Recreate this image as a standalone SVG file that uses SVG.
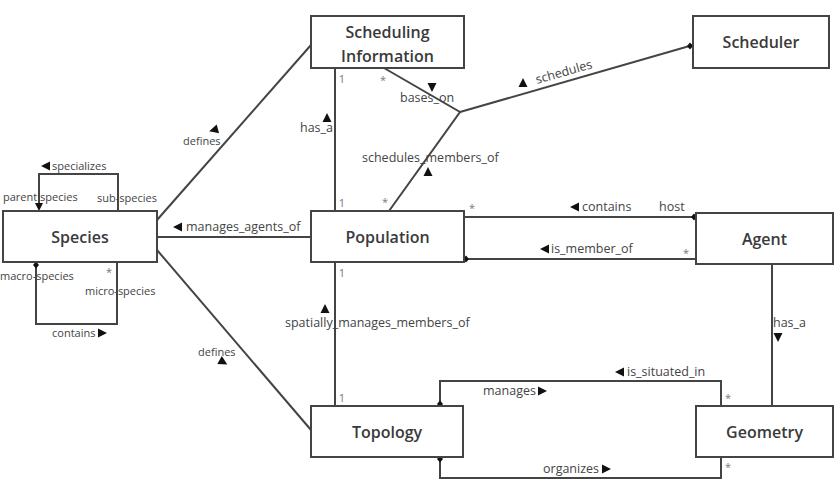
<svg xmlns="http://www.w3.org/2000/svg" width="839" height="483" viewBox="0 0 839 483">
<style>
.box{fill:#fff;stroke:#444;stroke-width:2}
.nt{font-family:"Open Sans","Liberation Sans",sans-serif;font-size:16px;font-weight:600;fill:#3a3a3a;text-anchor:middle}
.ln{fill:none;stroke:#444;stroke-width:2}
.sl{font-family:"Open Sans","Liberation Sans",sans-serif;font-size:11px;fill:#444}
.ml{font-family:"Open Sans","Liberation Sans",sans-serif;font-size:12.5px;fill:#444}
.mul{font-family:"Open Sans","Liberation Sans",sans-serif;font-size:11px;fill:#777;text-anchor:middle}
.tri{fill:#111}
.dot{fill:#111}
</style>
<defs>
<polygon id="tl" points="-5,0 4,-4.5 4,4.5"/>
<polygon id="tr" points="5,0 -4,-4.5 -4,4.5"/>
<polygon id="tu" points="0,-5 -4.5,4 4.5,4"/>
<polygon id="td" points="0,5 -4.5,-4 4.5,-4"/>
<polygon id="dm" points="0,-3.5 3,0 0,3.5 -3,0"/>
</defs>

<g id="connectors">
  <!-- species self loops -->
  <polyline class="ln" points="118,211 118,174 39,174 39,205"/>
  <polygon class="tri" points="39,211 35,203 43,203"/>
  <polyline class="ln" points="36,262 36,324 117,324 117,262"/>
  <use href="#dm" class="dot" x="36" y="265"/>
  <!-- species to others -->
  <line class="ln" x1="157" y1="220" x2="311" y2="45"/>
  <line class="ln" x1="157" y1="237" x2="311" y2="237"/>
  <line class="ln" x1="157" y1="250" x2="311" y2="430"/>
  <!-- scheduling info / population -->
  <line class="ln" x1="335" y1="68" x2="335" y2="211"/>
  <polyline class="ln" points="384,68 460,112 389,211"/>
  <line class="ln" x1="460" y1="112" x2="693" y2="45"/>
  <use href="#dm" class="dot" x="690" y="46"/>
  <!-- population / agent -->
  <line class="ln" x1="464" y1="217" x2="696" y2="217"/>
  <use href="#dm" class="dot" x="694" y="217"/>
  <line class="ln" x1="464" y1="259" x2="696" y2="259"/>
  <use href="#dm" class="dot" x="466" y="259"/>
  <!-- population / topology -->
  <line class="ln" x1="335" y1="262" x2="335" y2="406"/>
  <!-- agent / geometry -->
  <line class="ln" x1="772" y1="264" x2="772" y2="406"/>
  <!-- topology / geometry -->
  <polyline class="ln" points="440,406 440,381 721,381 721,406"/>
  <use href="#dm" class="dot" x="440" y="404"/>
  <polyline class="ln" points="440,457 440,478 721,478 721,457"/>
  <use href="#dm" class="dot" x="440" y="459"/>

  <!-- labels -->
  <use href="#tl" class="tri" x="46" y="166"/>
  <text class="sl" x="52" y="170">specializes</text>
  <text class="sl" x="3" y="201">parent species</text>
  <text class="sl" x="97" y="202">sub-species</text>
  <text class="sl" x="0" y="280">macro-species</text>
  <text class="mul" x="109" y="276">*</text>
  <text class="sl" x="85" y="295">micro-species</text>
  <text class="sl" x="52" y="337">contains</text>
  <use href="#tr" class="tri" x="102" y="333"/>

  <text class="sl" x="183" y="145">defines</text>
  <use href="#tl" class="tri" transform="translate(214,130) rotate(-15)"/>
  <text class="sl" x="198" y="356">defines</text>
  <use href="#tr" class="tri" transform="translate(223,362) rotate(30)"/>
  <use href="#tl" class="tri" x="178" y="227"/>
  <text class="ml" x="186" y="231">manages_agents_of</text>

  <text class="ml" x="300" y="132">has_a</text>
  <use href="#tu" class="tri" x="327" y="118"/>
  <text class="mul" x="342" y="83">1</text>
  <text class="mul" x="342" y="207">1</text>
  <text class="mul" x="383" y="84">*</text>
  <text class="mul" x="385" y="206">*</text>
  <use href="#td" class="tri" x="432" y="87"/>
  <text class="ml" x="400" y="102">bases_on</text>
  <text class="ml" x="362" y="162">schedules_members_of</text>
  <use href="#tu" class="tri" x="428" y="172"/>
  <use href="#tu" class="tri" x="523" y="83"/>
  <text class="ml" x="565" y="76" text-anchor="middle" transform="rotate(-16 565 76)">schedules</text>

  <text class="mul" x="472" y="212">*</text>
  <use href="#tl" class="tri" x="575" y="207"/>
  <text class="ml" x="582" y="211">contains</text>
  <text class="ml" x="659" y="211">host</text>
  <use href="#tl" class="tri" x="545" y="249"/>
  <text class="ml" x="551" y="253">is_member_of</text>
  <text class="mul" x="686" y="257">*</text>

  <text class="mul" x="342" y="277">1</text>
  <text class="mul" x="342" y="402">1</text>
  <use href="#tu" class="tri" x="325" y="309"/>
  <text class="ml" x="285" y="327">spatially_manages_members_of</text>

  <text class="ml" x="773" y="327">has_a</text>
  <use href="#td" class="tri" x="778" y="337"/>

  <use href="#tl" class="tri" x="620" y="372"/>
  <text class="ml" x="627" y="376">is_situated_in</text>
  <text class="ml" x="483" y="395">manages</text>
  <use href="#tr" class="tri" x="542" y="391"/>
  <text class="mul" x="728" y="402">*</text>
  <text class="ml" x="543" y="473">organizes</text>
  <use href="#tr" class="tri" x="606" y="469"/>
  <text class="mul" x="728" y="471">*</text>
</g>

<g id="species">
  <rect class="box" x="3" y="211" width="154" height="51"/>
  <text class="nt" x="80" y="243">Species</text>
</g>
<g id="scheduling-information">
  <rect class="box" x="311" y="16" width="153" height="52"/>
  <text class="nt" x="387.5" y="38">Scheduling</text>
  <text class="nt" x="387.5" y="62">Information</text>
</g>
<g id="scheduler">
  <rect class="box" x="693" y="16" width="136" height="52"/>
  <text class="nt" x="761" y="48">Scheduler</text>
</g>
<g id="population">
  <rect class="box" x="311" y="211" width="153" height="51"/>
  <text class="nt" x="387.5" y="243">Population</text>
</g>
<g id="agent">
  <rect class="box" x="696" y="213" width="137" height="51"/>
  <text class="nt" x="764.5" y="245">Agent</text>
</g>
<g id="topology">
  <rect class="box" x="311" y="406" width="152" height="51"/>
  <text class="nt" x="387" y="438">Topology</text>
</g>
<g id="geometry">
  <rect class="box" x="696" y="406" width="137" height="51"/>
  <text class="nt" x="764.5" y="438">Geometry</text>
</g>
</svg>
